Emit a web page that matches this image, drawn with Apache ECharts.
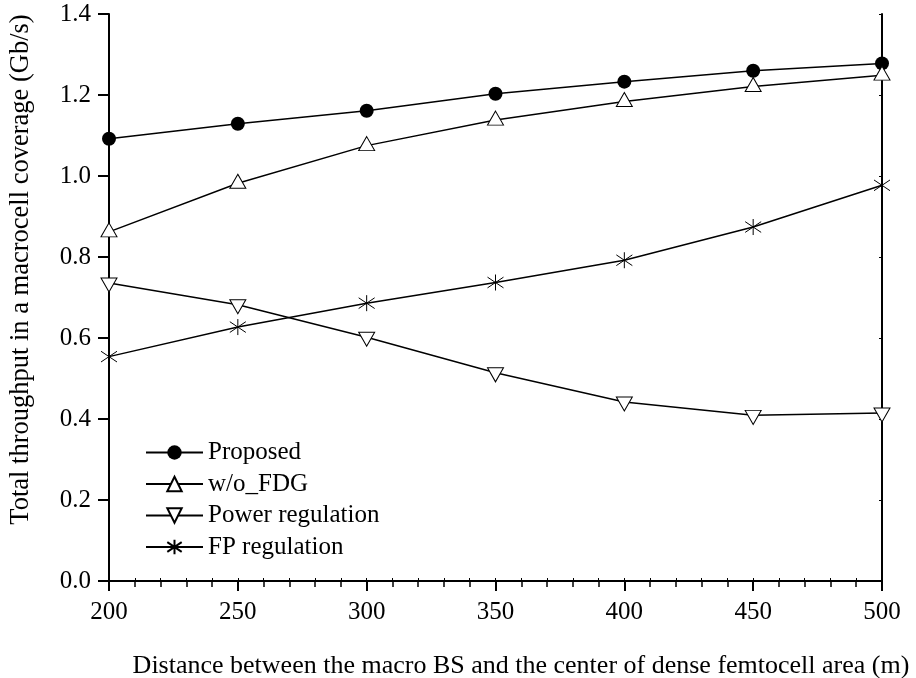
<!DOCTYPE html>
<html>
<head>
<meta charset="utf-8">
<script src="https://cdn.jsdelivr.net/npm/echarts@6/dist/echarts.min.js"></script>
<style>
  html, body { margin: 0; padding: 0; background: #fff; }
  #chart { width: 916px; height: 678px; }
</style>
</head>
<body>
<div id="chart"></div>
<script>
// Distance between macro BS and femtocell cluster centre (m)
const distances = [200, 250, 300, 350, 400, 450, 500];

// Total throughput (Gb/s) for each scheme
const proposed = [1.092, 1.129, 1.161, 1.203, 1.233, 1.260, 1.278];
const withoutFDG = [0.862, 0.982, 1.075, 1.138, 1.184, 1.221, 1.249];
const powerRegulation = [0.736, 0.682, 0.602, 0.514, 0.442, 0.409, 0.415];
const fpRegulation = [0.554, 0.627, 0.686, 0.737, 0.792, 0.874, 0.977];

const seriesNames = ['Proposed', 'w/o_FDG', 'Power regulation', 'FP regulation'];

const FONT = '"Liberation Serif", "Times New Roman", serif';

const pairs = (ys) => distances.map((x, i) => [x, ys[i]]);

const DOWN_TRIANGLE = 'path://M0,0 L2,0 L1,1.7 Z';
const ASTERISK = 'path://M1,0 L1,2 M0.2,0.33 L1.8,1.67 M0.2,1.67 L1.8,0.33';

const lineBase = {
  type: 'line',
  xAxisIndex: 0,
  yAxisIndex: 0,
  lineStyle: { color: '#000', width: 1.5 },
  emphasis: { disabled: true },
  animation: false,
  z: 3
};

const chart = echarts.init(document.getElementById('chart'), null, { renderer: 'canvas' });

chart.setOption({
  backgroundColor: '#fff',
  animation: false,
  grid: { left: 109, right: 34, top: 14, bottom: 97, containLabel: false, outerBoundsMode: 'none' },
  legend: {
    left: 140,
    top: 435,
    orient: 'vertical',
    itemWidth: 57,
    itemHeight: 18,
    itemGap: 6.5,
    textStyle: { fontFamily: FONT, fontSize: 25, color: '#000' },
    data: seriesNames
  },
  xAxis: [
    {
      type: 'value',
      min: 200, max: 500, interval: 50,
      position: 'bottom',
      axisLine: { lineStyle: { color: '#000', width: 2 } },
      axisTick: { inside: false, length: 10, lineStyle: { color: '#000', width: 2 } },
      minorTick: { show: true, splitNumber: 5, length: 6, lineStyle: { color: '#000', width: 1.5 } },
      splitLine: { show: false },
      axisLabel: { fontFamily: FONT, fontSize: 25, color: '#000', margin: 19 },
      name: 'Distance between the macro BS and the center of dense femtocell area (m)',
      nameLocation: 'middle',
      nameGap: 72,
      nameTextStyle: { fontFamily: FONT, fontSize: 26, color: '#000', padding: [0, 0, 0, 51] }
    },
    {
      type: 'value',
      min: 200, max: 500, interval: 50,
      position: 'top',
      axisLine: { lineStyle: { color: '#000', width: 2 } },
      axisTick: { inside: false, length: 3, lineStyle: { color: '#000', width: 1 } },
      minorTick: { show: true, splitNumber: 5, length: 3, lineStyle: { color: '#000', width: 1 } },
      splitLine: { show: false },
      axisLabel: { show: false }
    }
  ],
  yAxis: [
    {
      type: 'value',
      min: 0, max: 1.4, interval: 0.2,
      position: 'left',
      axisLine: { show: true, lineStyle: { color: '#000', width: 2 } },
      axisTick: { show: true, inside: false, length: 11, lineStyle: { color: '#000', width: 2 } },
      splitLine: { show: false },
      axisLabel: { fontFamily: FONT, fontSize: 25, color: '#000', margin: 18, formatter: (v) => v.toFixed(1) },
      name: 'Total throughput in a macrocell coverage (Gb/s)',
      nameLocation: 'middle',
      nameGap: 74,
      nameTextStyle: { fontFamily: FONT, fontSize: 26.5, color: '#000', padding: [0, 0, 0, 56] }
    },
    {
      type: 'value',
      min: 0, max: 1.4, interval: 0.2,
      position: 'right',
      axisLine: { show: true, lineStyle: { color: '#000', width: 2 } },
      axisTick: { show: true, inside: true, length: 3, lineStyle: { color: '#000', width: 1 } },
      splitLine: { show: false },
      axisLabel: { show: false }
    }
  ],
  series: [
    Object.assign({}, lineBase, {
      name: seriesNames[0],
      data: pairs(proposed),
      symbol: 'circle',
      symbolSize: 14,
      itemStyle: { color: '#000', borderColor: '#000', borderWidth: 0 }
    }),
    Object.assign({}, lineBase, {
      name: seriesNames[1],
      data: pairs(withoutFDG),
      symbol: 'triangle',
      symbolSize: [16, 14],
      symbolOffset: [0, -2],
      itemStyle: { color: '#fff', borderColor: '#000', borderWidth: 1 }
    }),
    Object.assign({}, lineBase, {
      name: seriesNames[2],
      data: pairs(powerRegulation),
      symbol: DOWN_TRIANGLE,
      symbolSize: [16, 14],
      symbolOffset: [0, 2],
      itemStyle: { color: '#fff', borderColor: '#000', borderWidth: 1 }
    }),
    Object.assign({}, lineBase, {
      name: seriesNames[3],
      data: pairs(fpRegulation),
      symbol: ASTERISK,
      symbolSize: [16, 16],
      itemStyle: { color: 'none', borderColor: '#000', borderWidth: 1 }
    })
  ]
});
</script>
</body>
</html>
